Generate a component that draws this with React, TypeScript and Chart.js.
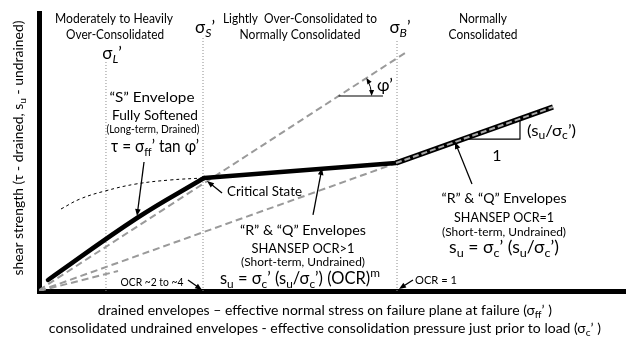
import { useEffect, useRef } from "react";
import { Chart, registerables } from "chart.js";
Chart.register(...registerables);

const FONT = "Lato, 'DejaVu Sans', sans-serif";

// --- envelopes (x: effective stress, y: shear strength; arbitrary 0..100 units)
const sEnvelopeX = [1.53, 16.7, 28.11];
const sEnvelopeY = [3.96, 26.26, 40.65];
const ocrOverX = [28.11, 60.82];
const ocrOverY = [40.65, 46.04];
const ncThickX = [60.82, 87.56];
const ncThickY = [46.04, 66.19];
const ncLineX = [0, 87.56];
const ncLineY = [0, 66.19];
const phiLineX = [0, 62.35];
const phiLineY = [0.3, 85.61];
const lowLineX = [0, 13.46];
const lowLineY = [0, 7.19];
const hvorslevX = [3.75, 6.98, 11.24, 16.52, 22.32, 28.11];
const hvorslevY = [29.5, 33.09, 35.97, 38.49, 39.93, 40.65];
// vertical stress markers: sigma_L', sigma_S', sigma_B'
const verticalX = [11.41, 27.94, 60.99];
const verticalTop = [82.37, 91.73, 90.29];
// phi' reference horizontal and su/sigma_c' slope triangle
const phiHorizX = [51.04, 58.6];
const phiHorizY = [70.14, 70.14];
const triangleX = [72.23, 81.94, 81.94];
const triangleY = [54.6, 54.6, 61.94];
// arrows: [fromX, fromY, toX, toY]
const arrows: number[][] = [
  [17.89, 46.4, 16.7, 26.98],
  [31.18, 35.25, 28.62, 39.57],
  [46.68, 27.34, 48.21, 44.24],
  [73.76, 38.49, 70.87, 53.6],
  [25.38, 3.96, 27.77, 0.36],
  [63.71, 3.96, 61.33, 0.72],
];
// labels: [text, x, y, fontSize, align, fitWidth]
const labels: [string, number, number, number, string, number][] = [
  ["Moderately to Heavily", 12.78, 98.2, 13, "center", 118],
  ["Over-Consolidated", 12.95, 92.45, 13, "center", 98],
  ["σ#{S}’", 28.28, 94.96, 17, "center", 0],
  ["σ#{L}’", 12.44, 85.61, 17, "center", 0],
  ["Lightly  Over-Consolidated to", 44.46, 98.2, 13, "center", 154],
  ["Normally Consolidated", 44.46, 92.45, 13, "center", 121],
  ["σ#{B}’", 61.5, 94.96, 17, "center", 0],
  ["Normally", 75.64, 98.2, 13, "center", 48],
  ["Consolidated", 75.64, 92.45, 13, "center", 69],
  ["“S” Envelope", 19.25, 69.78, 14, "center", 85],
  ["Fully Softened", 19.76, 63.31, 14, "center", 86],
  ["(Long-term, Drained)", 19.42, 58.27, 10.5, "center", 93],
  ["τ = σ_{ff}’ tan φ’", 19.76, 52.16, 17, "center", 88],
  ["Critical State", 32.03, 35.97, 14, "left", 75],
  ["“R” & “Q” Envelopes", 44.97, 21.94, 14, "center", 126],
  ["SHANSEP OCR>1", 44.97, 15.47, 14, "center", 103],
  ["(Short-term, Undrained)", 44.97, 10.43, 11, "center", 124],
  ["s_{u} = σ_{c}’ (s_{u}/σ_{c}’) (OCR)^{m}", 44.46, 4.68, 17, "center", 160],
  ["“R” & “Q” Envelopes", 79.22, 33.45, 14, "center", 125],
  ["SHANSEP OCR=1", 79.22, 26.62, 14, "center", 100],
  ["(Short-term, Undrained)", 79.22, 21.22, 11, "center", 124],
  ["s_{u} = σ_{c}’ (s_{u}/σ_{c}’)", 79.22, 15.83, 17, "center", 110],
  ["OCR ~2 to ~4", 19.25, 3.24, 11, "center", 63],
  ["OCR = 1", 64.05, 3.96, 11, "left", 42],
  ["(s_{u}/σ_{c}’)", 83.13, 57.91, 16, "left", 49],
  ["1", 78.02, 48.92, 16, "center", 0],
  ["φ’", 58.94, 74.1, 17, "center", 0],
];
const xTitle1 = "drained envelopes – effective normal stress on failure plane at failure (σ_{ff}’ )";
const xTitle2 = "consolidated undrained envelopes - effective consolidation pressure just prior to load (σ_{c}’ )";
const yTitle = "shear strength (τ - drained, s_{u} - undrained)";

const pts = (xs: number[], ys: number[]) => xs.map((x, i) => ({ x, y: ys[i] }));

type Seg = { t: string; k: string };
function parse(s: string): Seg[] {
  const out: Seg[] = [];
  const re = /([_^#])\{([^}]*)\}/g;
  let last = 0;
  let m: RegExpExecArray | null;
  while ((m = re.exec(s))) {
    if (m.index > last) out.push({ t: s.slice(last, m.index), k: "n" });
    out.push({ t: m[2], k: m[1] });
    last = re.lastIndex;
  }
  if (last < s.length) out.push({ t: s.slice(last), k: "n" });
  return out;
}
function drawRich(ctx: CanvasRenderingContext2D, s: string, x: number, y: number, size: number, align: string, fit = 0) {
  const segs = parse(s);
  const font = (k: string) => {
    const sz = k === "n" ? size : size * 0.72;
    return `${k === "#" ? "italic " : ""}${sz}px ${FONT}`;
  };
  const widths = segs.map((sg) => {
    ctx.font = font(sg.k);
    return ctx.measureText(sg.t).width;
  });
  const total = widths.reduce((a, b) => a + b, 0);
  let sx = fit > 0 ? fit / total : 1;
  sx = Math.max(0.75, Math.min(1.15, sx));
  const w = total * sx;
  const x0 = align === "center" ? x - w / 2 : align === "right" ? x - w : x;
  const base = y + size * 0.36;
  ctx.save();
  ctx.translate(x0, 0);
  ctx.scale(sx, 1);
  ctx.textAlign = "left";
  ctx.textBaseline = "alphabetic";
  let cx = 0;
  segs.forEach((sg, i) => {
    ctx.font = font(sg.k);
    const dy = sg.k === "n" ? 0 : sg.k === "^" ? -size * 0.4 : size * 0.22;
    ctx.fillText(sg.t, cx, base + dy);
    cx += widths[i];
  });
  ctx.restore();
}
function head(ctx: CanvasRenderingContext2D, x: number, y: number, ang: number, len: number, w: number) {
  ctx.beginPath();
  ctx.moveTo(x, y);
  ctx.lineTo(x - len * Math.cos(ang) + w * Math.sin(ang), y - len * Math.sin(ang) - w * Math.cos(ang));
  ctx.lineTo(x - len * Math.cos(ang) - w * Math.sin(ang), y - len * Math.sin(ang) + w * Math.cos(ang));
  ctx.closePath();
  ctx.fill();
}

const annotate = {
  id: "annotate",
  afterDraw(chart: any) {
    const ctx: CanvasRenderingContext2D = chart.ctx;
    const xs = chart.scales.x;
    const ys = chart.scales.y;
    const px = (v: number) => xs.getPixelForValue(v);
    const py = (v: number) => ys.getPixelForValue(v);
    ctx.save();
    ctx.fillStyle = "#000";
    ctx.strokeStyle = "#000";
    ctx.lineWidth = 1.3;
    arrows.forEach(([x1, y1, x2, y2]) => {
      const a = px(x1), b = py(y1), c = px(x2), d = py(y2);
      const ang = Math.atan2(d - b, c - a);
      ctx.beginPath();
      ctx.moveTo(a, b);
      ctx.lineTo(c - 5 * Math.cos(ang), d - 5 * Math.sin(ang));
      ctx.stroke();
      head(ctx, c, d, ang, 7, 2.8);
    });
    // phi' angle arc
    const cxp = px(phiHorizX[0]);
    const cyp = py(phiHorizY[0]);
    const lang = Math.atan2(py(phiLineY[1]) - py(phiLineY[0]), px(phiLineX[1]) - px(phiLineX[0]));
    const r = 33;
    ctx.lineWidth = 1;
    ctx.beginPath();
    ctx.arc(cxp, cyp, r, lang + 0.08, -0.08);
    ctx.stroke();
    head(ctx, cxp + r * Math.cos(lang), cyp + r * Math.sin(lang), lang - Math.PI / 2, 6, 2.5);
    head(ctx, cxp + r, cyp, Math.PI / 2, 6, 2.5);
    labels.forEach(([t, x, y, s, al, f]) => drawRich(ctx, t, px(x), py(y), s, al, f));
    const ca = chart.chartArea;
    drawRich(ctx, xTitle1, px(48.7), ca.bottom + 19, 13.5, "center", 454);
    drawRich(ctx, xTitle2, px(48.7), ca.bottom + 37, 13.5, "center", 552);
    ctx.translate(18, py(51.4));
    ctx.rotate(-Math.PI / 2);
    drawRich(ctx, yTitle, 0, 0, 13.5, "center", 255);
    ctx.restore();
  },
};

export default function App() {
  const ref = useRef<HTMLCanvasElement>(null);
  useEffect(() => {
    document.body.style.margin = "0";
    const grey = "#9a9a9a";
    const line = (data: any[], color: string, width: number, dash: number[], order: number, tension = 0, cap = "butt") => ({
      data,
      showLine: true,
      borderColor: color,
      borderWidth: width,
      borderDash: dash,
      pointRadius: 0,
      fill: false,
      tension,
      order,
      borderCapStyle: cap,
      borderJoinStyle: "round",
    });
    const datasets: any[] = [
      ...verticalX.map((x, i) => line(pts([x, x], [0, verticalTop[i]]), "#8c8c8c", 1, [1, 2], 20)),
      line(pts(phiLineX, phiLineY), grey, 2, [7, 4], 15),
      line(pts(ncLineX, ncLineY), grey, 2, [7, 4], 15),
      line(pts(lowLineX, lowLineY), grey, 2, [7, 4], 15),
      line(pts(hvorslevX, hvorslevY), "#000", 1, [3, 3], 12, 0.4),
      line(pts(phiHorizX, phiHorizY), "#000", 1.2, [], 11),
      line(pts(triangleX, triangleY), "#000", 1.2, [], 11),
      line(pts(sEnvelopeX, sEnvelopeY), "#000", 4.5, [], 5, 0.4, "round"),
      line(pts(ocrOverX, ocrOverY), "#000", 4.5, [], 5, 0, "round"),
      line(pts(ncThickX, ncThickY), "#000", 5.5, [], 4),
      line(pts(ncThickX, ncThickY), "#a8a8a8", 2, [6, 3], 3),
    ];
    const chart = new Chart(ref.current!, {
      type: "scatter",
      data: { datasets },
      options: {
        responsive: false,
        animation: false,
        layout: { padding: { left: 39, right: 0, top: 13, bottom: 51 } },
        plugins: { legend: { display: false }, tooltip: { enabled: false } },
        scales: {
          x: {
            type: "linear",
            min: 0,
            max: 100,
            z: 1,
            ticks: { display: false },
            grid: { display: false, drawTicks: false },
            border: { display: true, color: "#000", width: 5 },
            afterFit: (s: any) => { s.height = 0; },
          },
          y: {
            type: "linear",
            min: 0,
            max: 100,
            z: 1,
            ticks: { display: false },
            grid: { display: false, drawTicks: false },
            border: { display: true, color: "#000", width: 5 },
            afterFit: (s: any) => { s.width = 0; },
          },
        },
      },
      plugins: [annotate],
    });
    return () => chart.destroy();
  }, []);
  return (
    <div style={{ position: "fixed", left: 0, top: 0, width: 626, height: 342, background: "#fff" }}>
      <canvas ref={ref} width={626} height={342} />
    </div>
  );
}
